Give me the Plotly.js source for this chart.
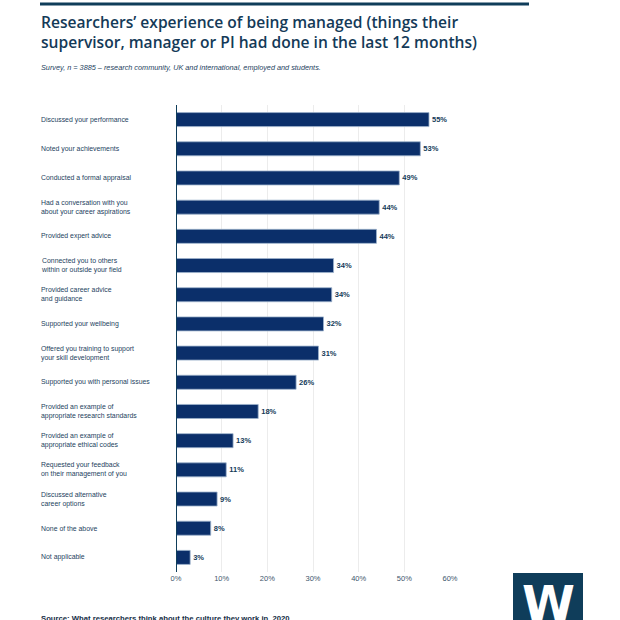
<!DOCTYPE html>
<html>
<head>
<meta charset="utf-8">
<script src="https://cdn.plot.ly/plotly-3.0.1.min.js"></script>
<style>html,body{margin:0;padding:0;background:#fff;}#chart{width:620px;height:620px;}</style>
</head>
<body>
<div id="chart"></div>
<script>
const categories = [
  "Discussed your performance",
  "Noted your achievements",
  "Conducted a formal appraisal",
  "Had a conversation with you<br>about your career aspirations",
  "Provided expert advice",
  "Connected you to others<br>within or outside your field",
  "Provided career advice<br>and guidance",
  "Supported your wellbeing",
  "Offered you training to support<br>your skill development",
  "Supported you with personal issues",
  "Provided an example of<br>appropriate research standards",
  "Provided an example of<br>appropriate ethical codes",
  "Requested your feedback<br>on their management of you",
  "Discussed alternative<br>career options",
  "None of the above",
  "Not applicable"
];
const values = [55.4, 53.5, 48.9, 44.5, 43.9, 34.5, 34.1, 32.3, 31.2, 26.3, 18.0, 12.5, 11.0, 9.0, 7.6, 3.1];
const valueLabels = ["55%", "53%", "49%", "44%", "44%", "34%", "34%", "32%", "31%", "26%", "18%", "13%", "11%", "9%", "8%", "3%"];
const tickValues = [0, 10, 20, 30, 40, 50, 60];
const tickLabels = ["0%", "10%", "20%", "30%", "40%", "50%", "60%"];

const titleText = "Researchers\u2019 experience of being managed (things their<br>supervisor, manager or PI had done in the last 12 months)";
const subtitleText = "<i>Survey, n = 3885 \u2013 research community, UK and international, employed and students.</i>";
const sourceText = "<b>Source: What researchers think about the culture they work in, 2020</b>";

const W = 620, H = 620, L = 176, R = 450, T = 105, B = 572;
const px = x => (x - L) / (R - L);
const py = y => (B - y) / (B - T);

const dark = "#143a58";
const labelColor = "#24425e";

const trace = {
  type: "bar",
  orientation: "h",
  y: categories,
  x: values,
  text: valueLabels,
  texttemplate: "%{text}",
  textposition: "outside",
  cliponaxis: false,
  textfont: {family: "Liberation Sans", size: 7.5, color: dark, weight: 700},
  width: 0.48,
  marker: {color: "#0b2f6a", line: {color: "#9db2cc", width: 0.8}},
  hoverinfo: "skip"
};

const annotations = categories.map(c => ({
  xref: "paper", yref: "y", x: px(40), y: c,
  xanchor: "left", yanchor: "middle", align: "left",
  text: c, showarrow: false, borderpad: 0,
  font: {family: "Liberation Sans", size: 6.9, color: labelColor}
}));

annotations.push({
  xref: "paper", yref: "paper", x: px(40), y: py(10),
  xanchor: "left", yanchor: "top", align: "left",
  text: titleText, showarrow: false, borderpad: 0,
  font: {family: "Open Sans", size: 15.6, color: dark, weight: 600}
});
annotations.push({
  xref: "paper", yref: "paper", x: px(40), y: py(67),
  xanchor: "left", yanchor: "middle", align: "left",
  text: subtitleText, showarrow: false, borderpad: 0,
  font: {family: "Liberation Sans", size: 7.3, color: labelColor}
});
annotations.push({
  xref: "paper", yref: "paper", x: px(40), y: py(613),
  xanchor: "left", yanchor: "top", align: "left",
  text: sourceText, showarrow: false, borderpad: 0,
  font: {family: "Liberation Sans", size: 7.7, color: "#142c44"}
});
annotations.push({
  xref: "paper", yref: "paper", x: px(548), y: py(574),
  xanchor: "center", yanchor: "top",
  text: "<b>W</b>", showarrow: false, borderpad: 0,
  font: {family: "DejaVu Sans", size: 48, color: "#ffffff"}
});

const layout = {
  width: W, height: H,
  margin: {l: L, r: W - R, t: T, b: H - B, pad: 0},
  paper_bgcolor: "#ffffff",
  plot_bgcolor: "#ffffff",
  showlegend: false,
  xaxis: {
    range: [0, 60],
    tickvals: tickValues,
    ticktext: tickLabels,
    showgrid: true, gridcolor: "#ececec", gridwidth: 1,
    zeroline: false,
    showline: false,
    ticks: "",
    tickfont: {family: "Liberation Sans", size: 7.5, color: "#3d556c"},
    fixedrange: true
  },
  yaxis: {
    autorange: "reversed",
    showticklabels: false,
    showgrid: false,
    zeroline: false,
    showline: false,
    ticks: "",
    fixedrange: true
  },
  shapes: [
    {type: "line", xref: "paper", yref: "paper", x0: px(40), x1: px(529), y0: py(4), y1: py(4),
     line: {color: "#0f3d5a", width: 3}},
    {type: "line", xref: "x", yref: "paper", x0: 0, x1: 0, y0: 0, y1: 1,
     line: {color: "#0f3d5a", width: 2}, layer: "above"},
    {type: "rect", xref: "paper", yref: "paper", x0: px(513), x1: px(583), y0: py(573), y1: py(630),
     line: {width: 0}, fillcolor: "#0f3d5a"}
  ],
  annotations: annotations,
  bargap: 0.5
};

Plotly.newPlot("chart", [trace], layout, {displayModeBar: false, staticPlot: true});
</script>
</body>
</html>
